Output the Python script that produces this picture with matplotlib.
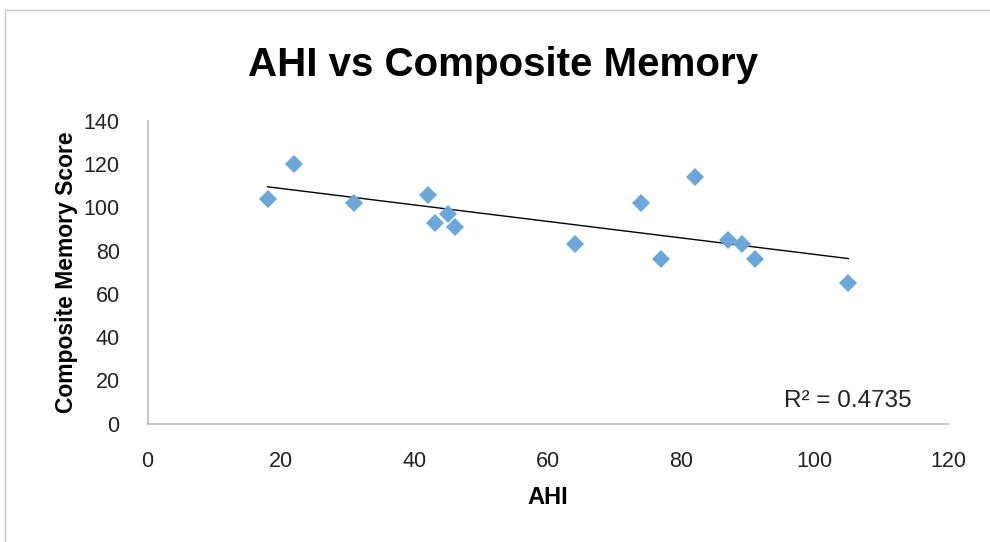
import matplotlib.pyplot as plt
import numpy as np
from matplotlib.patches import Rectangle

# AHI vs composite memory score
ahi = [18, 22, 31, 42, 43, 45, 46, 64, 74, 77, 82, 87, 89, 91, 105]
memory = [104, 120, 102, 106, 93, 97, 91, 83, 102, 76, 114, 85, 83, 76, 65]
r2_label = "R² = 0.4735"

plt.rcParams['font.family'] = ['Liberation Sans', 'DejaVu Sans']

fig = plt.figure(figsize=(9.9, 5.42), dpi=100)
# light chart-area border (top/left visible)
fig.patches.append(Rectangle((5 / 990, -0.1), 1.2, (542 - 10) / 542 + 0.1,
                             transform=fig.transFigure, fill=False,
                             edgecolor='#C8C8C8', linewidth=1.0))

ax = fig.add_axes([0.149, 0.2186, 0.809, 0.558])

ax.plot(ahi, memory, linestyle='none', marker='D', markersize=9.5,
        color='#6AA8DC', markeredgewidth=0, zorder=3)

# linear trendline
k, b = np.polyfit(ahi, memory, 1)
xs = np.array([min(ahi), max(ahi)])
ax.plot(xs, k * xs + b, color='black', linewidth=1.0, zorder=2)

ax.set_xlim(0, 120)
ax.set_ylim(0, 140)
ax.set_xticks(range(0, 121, 20))
ax.set_yticks(range(0, 141, 20))
ax.tick_params(length=0, labelsize=15.5, colors='#222222')
ax.tick_params(axis='x', pad=20)
ax.tick_params(axis='y', pad=20)

for side in ['top', 'right']:
    ax.spines[side].set_visible(False)
for side in ['left', 'bottom']:
    ax.spines[side].set_color('#BDBDBD')
    ax.spines[side].set_linewidth(1.2)

ax.set_xlabel('AHI', fontsize=17, fontweight='bold', labelpad=10)
ax.set_ylabel('Composite Memory Score', fontsize=16.5, fontweight='bold', labelpad=4)

fig.text(0.508, 0.88, 'AHI vs Composite Memory', ha='center', va='center',
         fontsize=29, fontweight='bold')

ax.text(105, 10.4, r2_label, ha='center', va='center', fontsize=17.5, color='#222222')

fig.savefig('out.png', dpi=100)
